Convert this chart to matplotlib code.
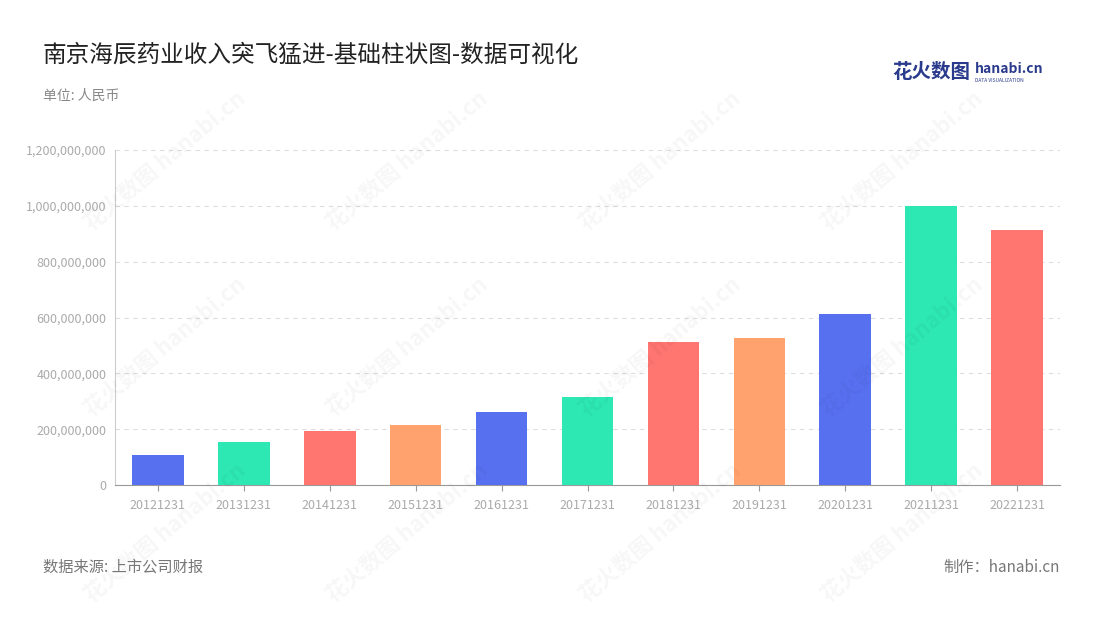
import matplotlib
matplotlib.use("Agg")
import matplotlib.pyplot as plt
from matplotlib.ticker import FuncFormatter

plt.rcParams['font.family'] = ['Noto Sans CJK SC', 'DejaVu Sans']

categories = ["20121231","20131231","20141231","20151231","20161231","20171231",
              "20181231","20191231","20201231","20211231","20221231"]
revenue = [107500000,154000000,193000000,215000000,262000000,315000000,
           512000000,527000000,613000000,1000000000,914000000]
palette = ["#5770EF","#2DE8B2","#FF7570","#FFA26E"]
colors = [palette[i % 4] for i in range(len(categories))]

fig = plt.figure(figsize=(11,6.2), dpi=100)
ax = fig.add_axes([115/1100, 1-485/620, 945/1100, 335/620])
x = range(len(categories))
ax.bar(x, revenue, width=0.6, color=colors, zorder=3)
ax.set_xlim(-0.5, len(categories)-0.5)
ax.set_ylim(0, 1.2e9)
ax.set_yticks([i*2e8 for i in range(7)])
ax.yaxis.set_major_formatter(FuncFormatter(lambda v,p: f"{int(v):,}"))
ax.set_xticks(list(x))
ax.set_xticklabels(categories)
ax.tick_params(axis='both', colors='#AAAAAA', labelsize=9, length=0, pad=6)
ax.tick_params(axis='x', length=4, color='#999999')
ax.grid(axis='y', linestyle=(0,(4,4)), color='#DDDDDD', zorder=0)
for s in ['top','right']:
    ax.spines[s].set_visible(False)
ax.spines['left'].set_color('#CCCCCC')
ax.spines['bottom'].set_color('#999999')

# watermarks
for wx in [0.15, 0.37, 0.6, 0.82]:
    for wy in [0.74, 0.44, 0.14]:
        fig.text(wx, wy, "花火数图 hanabi.cn", rotation=40, fontsize=16,
                 color='#000000', alpha=0.035, ha='center', va='center', fontweight='bold')

fig.text(43/1100, 1-55/620, "南京海辰药业收入突飞猛进-基础柱状图-数据可视化", fontsize=17, color='#222222', va='center')
fig.text(43/1100, 1-96/620, "单位: 人民币", fontsize=10, color='#888888', va='center')
fig.text(43/1100, 1-567/620, "数据来源: 上市公司财报", fontsize=11, color='#777777', va='center')
fig.text(1060/1100, 1-567/620, "制作：hanabi.cn", fontsize=11, color='#777777', va='center', ha='right')
fig.text(892/1100, 1-72/620, "花火数图", fontsize=14, color='#2A3A8C', va='center', fontweight='bold')
fig.text(975/1100, 1-69/620, "hanabi.cn", fontsize=10, color='#2A3A8C', va='center', fontweight='bold')
fig.text(975/1100, 1-80/620, "DATA VISUALIZATION", fontsize=3.5, color='#2A3A8C', va='center')

fig.savefig("out.png", dpi=100)
